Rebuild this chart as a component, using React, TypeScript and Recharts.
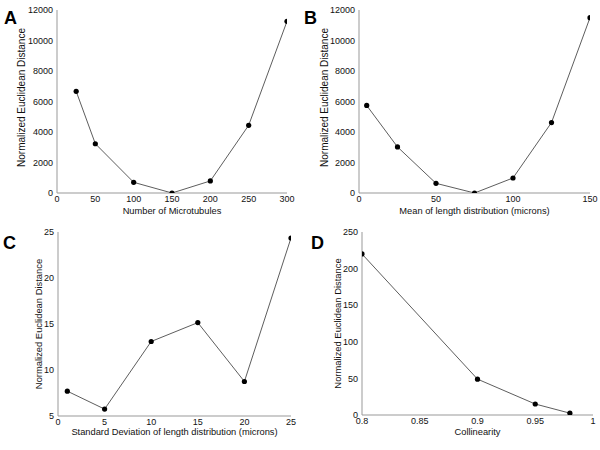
import { Label, Line, LineChart, XAxis, YAxis } from 'recharts';

const yTitle = 'Normalized Euclidean Distance';

// A: number of microtubules
const microtubules = [25, 50, 100, 150, 200, 250, 300];
const distA = [6670, 3230, 700, 0, 790, 4440, 11260];
const ticksA_x = [0, 50, 100, 150, 200, 250, 300];
const ticksA_y = [0, 2000, 4000, 6000, 8000, 10000, 12000];

// B: mean of length distribution
const meanLength = [5, 25, 50, 75, 100, 125, 150];
const distB = [5740, 3020, 635, 0, 985, 4620, 11500];
const ticksB_x = [0, 50, 100, 150];
const ticksB_y = [0, 2000, 4000, 6000, 8000, 10000, 12000];

// C: standard deviation of length distribution
const sdLength = [1, 5, 10, 15, 20, 25];
const distC = [7.7, 5.75, 13.1, 15.15, 8.75, 24.35];
const ticksC_x = [0, 5, 10, 15, 20, 25];
const ticksC_y = [5, 10, 15, 20, 25];

// D: collinearity
const collinearity = [0.8, 0.9, 0.95, 0.98];
const distD = [220, 49, 15, 2.5];
const ticksD_x = [0.8, 0.85, 0.9, 0.95, 1];
const ticksD_y = [0, 50, 100, 150, 200, 250];

const font = '"Liberation Sans", Arial, Helvetica, sans-serif';
const tickStyle = { fill: '#111', fontSize: 9, fontFamily: font };

interface PanelProps {
  letter: string;
  left: number;
  top: number;
  xs: number[];
  ys: number[];
  xTicks: number[];
  yTicks: number[];
  xTitle: string;
  margin: { top: number; right: number; bottom: number; left: number };
  yTitleGap: number;
  yTitleShift: number;
  yTitleSize: number;
  xTitleGap: number;
  letterPos: { x: number; y: number };
}

function Panel(p: PanelProps) {
  const data = p.xs.map((x, i) => ({ x, y: p.ys[i] }));
  const xDomain = [p.xTicks[0], p.xTicks[p.xTicks.length - 1]];
  const yDomain = [p.yTicks[0], p.yTicks[p.yTicks.length - 1]];

  return (
    <div style={{ position: 'absolute', left: p.left, top: p.top, width: 300, height: 225 }}>
      <LineChart width={300} height={225} data={data} margin={p.margin}>
        <XAxis
          dataKey="x"
          type="number"
          domain={xDomain}
          ticks={p.xTicks}
          interval={0}
          tick={tickStyle}
          tickLine={false}
          tickSize={0}
          tickMargin={3}
          height={20}
          stroke="#999"
          allowDataOverflow
        >
          <Label
            content={({ viewBox }: any) => (
              <text
                x={viewBox.x + viewBox.width / 2}
                y={viewBox.y + p.xTitleGap}
                textAnchor="middle"
                dominantBaseline="central"
                fontSize={9.3}
                fontFamily={font}
                fill="#111"
              >
                {p.xTitle}
              </text>
            )}
          />
        </XAxis>
        <YAxis
          type="number"
          domain={yDomain}
          ticks={p.yTicks}
          interval={0}
          tick={tickStyle}
          tickLine={false}
          tickSize={0}
          tickMargin={4}
          width={50}
          stroke="#999"
          allowDataOverflow
        >
          <Label
            content={({ viewBox }: any) => {
              const cx = viewBox.x + viewBox.width - p.yTitleGap;
              const cy = viewBox.y + viewBox.height / 2 + p.yTitleShift;
              return (
                <text
                  x={cx}
                  y={cy}
                  transform={`rotate(-90 ${cx} ${cy})`}
                  textAnchor="middle"
                  dominantBaseline="central"
                  fontSize={p.yTitleSize}
                  fontFamily={font}
                  fill="#111"
                >
                  {yTitle}
                </text>
              );
            }}
          />
        </YAxis>
        <Line
          dataKey="y"
          stroke="#333"
          strokeWidth={0.8}
          dot={{ r: 2.6, fill: '#000', stroke: '#000', strokeWidth: 0 }}
          isAnimationActive={false}
        />
      </LineChart>
      <div
        style={{
          position: 'absolute',
          left: p.letterPos.x,
          top: p.letterPos.y,
          fontFamily: font,
          fontWeight: 'bold',
          fontSize: 18,
          lineHeight: 1,
          color: '#000',
        }}
      >
        {p.letter}
      </div>
    </div>
  );
}

export default function App() {
  return (
    <div style={{ position: 'absolute', left: 0, top: 0, width: 600, height: 450, background: '#fff' }}>
      <Panel
        letter="A"
        left={0}
        top={0}
        xs={microtubules}
        ys={distA}
        xTicks={ticksA_x}
        yTicks={ticksA_y}
        xTitle="Number of Microtubules"
        margin={{ top: 10, right: 13, bottom: 12, left: 7 }}
        yTitleGap={36}
        yTitleShift={-4}
        yTitleSize={10}
        xTitleGap={18}
        letterPos={{ x: 4, y: 9 }}
      />
      <Panel
        letter="B"
        left={300}
        top={0}
        xs={meanLength}
        ys={distB}
        xTicks={ticksB_x}
        yTicks={ticksB_y}
        xTitle="Mean of length distribution (microns)"
        margin={{ top: 10, right: 10, bottom: 12, left: 9 }}
        yTitleGap={35}
        yTitleShift={-4}
        yTitleSize={10}
        xTitleGap={18}
        letterPos={{ x: 4, y: 9 }}
      />
      <Panel
        letter="C"
        left={0}
        top={225}
        xs={sdLength}
        ys={distC}
        xTicks={ticksC_x}
        yTicks={ticksC_y}
        xTitle="Standard Deviation of length distribution (microns)"
        margin={{ top: 7, right: 9, bottom: 14, left: 8 }}
        yTitleGap={20}
        yTitleShift={0}
        yTitleSize={9.4}
        xTitleGap={16}
        letterPos={{ x: 3, y: 9 }}
      />
      <Panel
        letter="D"
        left={300}
        top={225}
        xs={collinearity}
        ys={distD}
        xTicks={ticksD_x}
        yTicks={ticksD_y}
        xTitle="Collinearity"
        margin={{ top: 7, right: 7, bottom: 15, left: 12 }}
        yTitleGap={25}
        yTitleShift={0}
        yTitleSize={9.4}
        xTitleGap={17}
        letterPos={{ x: 11, y: 9 }}
      />
    </div>
  );
}
